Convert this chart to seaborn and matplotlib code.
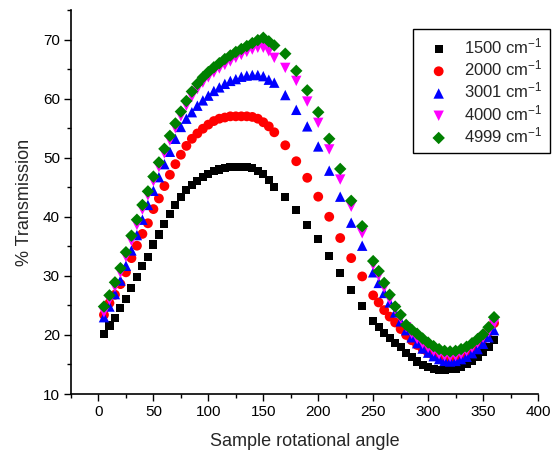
import numpy as np
import pandas as pd
import matplotlib
matplotlib.use("Agg")
import matplotlib.pyplot as plt
from matplotlib.ticker import MultipleLocator
import seaborn as sns

# ---------------- data ----------------
angles = ([5, 10, 15, 20, 25, 30, 35, 40, 45, 50, 55, 60, 65, 70, 75, 80, 85, 90, 95, 100,
           105, 110, 115, 120, 125, 130, 135, 140, 145, 150, 155, 160]
          + [170, 180, 190, 200, 210, 220, 230, 240]
          + [250, 255, 260, 265, 270, 275, 280, 285, 290, 295, 300, 305, 310, 315, 320,
             325, 330, 335, 340, 345, 350, 355, 360])

t1500 = [20.1, 21.6, 22.9, 24.6, 26.1, 28.0, 29.8, 31.6, 33.2, 35.3, 37.0, 38.8, 40.5, 42.0,
         43.3, 44.6, 45.4, 46.1, 46.7, 47.2, 47.7, 48.0, 48.2, 48.4, 48.5, 48.5, 48.5, 48.2,
         47.8, 47.2, 46.3, 45.1,
         43.3, 41.1, 38.6, 36.2, 33.3, 30.5, 27.6, 24.9,
         22.3, 21.3, 20.4, 19.5, 18.7, 17.9, 17.0, 16.2, 15.5, 14.9, 14.5, 14.2, 14.1, 14.1,
         14.2, 14.3, 14.6, 15.1, 15.6, 16.3, 17.1, 18.0, 19.2]

t2000 = [23.4, 25.4, 26.8, 28.6, 30.6, 33.0, 35.1, 37.1, 38.9, 41.3, 43.1, 45.2, 47.1, 48.9,
         50.5, 52.0, 53.2, 54.1, 54.9, 55.6, 56.2, 56.6, 56.8, 57.0, 57.0, 57.0, 57.0, 56.9,
         56.6, 56.0, 55.3, 54.3,
         52.1, 49.4, 46.6, 43.4, 40.0, 36.4, 33.0, 29.9,
         26.7, 25.5, 24.2, 23.1, 22.1, 21.0, 20.0, 19.1, 18.3, 17.6, 17.0, 16.5, 16.2, 16.0,
         16.0, 16.1, 16.4, 16.9, 17.5, 18.3, 19.3, 20.5, 22.0]

t3001 = [23.0, 24.8, 26.9, 29.2, 31.7, 34.3, 36.9, 39.5, 42.0, 44.4, 46.7, 48.9, 51.0, 53.2,
         55.2, 56.6, 57.7, 58.8, 59.7, 60.5, 61.3, 61.9, 62.5, 63.0, 63.3, 63.7, 63.9, 64.0,
         64.0, 63.8, 63.2, 62.7,
         60.6, 58.1, 55.3, 51.9, 47.8, 43.4, 39.0, 35.1,
         30.6, 28.8, 27.1, 25.5, 23.8, 22.3, 20.8, 19.6, 18.6, 17.7, 17.0, 16.4, 15.9, 15.6,
         15.5, 15.6, 15.9, 16.3, 16.9, 17.6, 18.5, 19.6, 20.8]

t4000 = [23.8, 25.9, 28.1, 30.5, 33.2, 35.9, 38.6, 41.2, 43.6, 46.0, 48.4, 50.7, 52.9, 55.0,
         57.0, 58.8, 60.3, 61.6, 62.7, 63.6, 64.4, 65.1, 65.7, 66.3, 66.9, 67.4, 67.9, 68.3,
         68.6, 68.6, 68.0, 66.9,
         65.2, 63.0, 59.5, 55.9, 51.4, 46.3, 41.7, 37.2,
         31.8, 30.0, 28.0, 26.0, 24.3, 22.8, 21.3, 20.2, 19.3, 18.5, 17.8, 17.2, 16.7, 16.4,
         16.3, 16.4, 16.7, 17.2, 17.8, 18.6, 19.5, 20.5, 21.8]

t4999 = [24.8, 26.7, 28.9, 31.3, 34.0, 36.8, 39.5, 42.0, 44.3, 46.8, 49.2, 51.5, 53.7, 55.8,
         57.8, 59.6, 61.2, 62.5, 63.6, 64.5, 65.3, 66.0, 66.7, 67.3, 67.9, 68.4, 68.9, 69.4,
         69.9, 70.3, 69.7, 69.0,
         67.6, 64.7, 61.4, 57.7, 53.2, 48.1, 42.7, 38.4,
         32.5, 30.8, 28.8, 26.8, 24.8, 23.4, 21.7, 20.9, 20.2, 19.4, 18.7, 18.1, 17.6, 17.3,
         17.2, 17.3, 17.6, 18.0, 18.6, 19.3, 20.1, 21.3, 23.0]

labels = ["1500 cm$^{-1}$", "2000 cm$^{-1}$", "3001 cm$^{-1}$", "4000 cm$^{-1}$", "4999 cm$^{-1}$"]
series = [t1500, t2000, t3001, t4000, t4999]

xticks = [0, 50, 100, 150, 200, 250, 300, 350, 400]
yticks = [10, 20, 30, 40, 50, 60, 70]

# ---------------- style ----------------
sns.set_theme(style="ticks")
plt.rcParams["font.family"] = ["Liberation Sans", "DejaVu Sans"]
plt.rcParams["mathtext.fontset"] = "custom"
plt.rcParams["mathtext.rm"] = "Liberation Sans"
plt.rcParams["mathtext.it"] = "Liberation Sans:italic"
plt.rcParams["mathtext.bf"] = "Liberation Sans:bold"

colors = ["#000000", "#FF0000", "#0000FF", "#FF00FF", "#008000"]
markers = ["s", "o", "^", "v", "D"]
sizes = [34, 50, 56, 56, 40]

fig = plt.figure(figsize=(5.54, 4.55), dpi=100)
ax = fig.add_axes([71 / 554, 1 - 394 / 455, 467 / 554, 384 / 455])

for lab, vals, c, m, s in zip(labels, series, colors, markers, sizes):
    df = pd.DataFrame({"angle": angles, "T": vals})
    sns.scatterplot(data=df, x="angle", y="T", ax=ax, color=c, marker=m, s=s,
                    linewidth=0, edgecolor="none", label=lab, zorder=3)

ax.set_xlim(-25, 400)
ax.set_ylim(10, 75)
ax.set_xticks(xticks)
ax.set_yticks(yticks)
ax.xaxis.set_minor_locator(MultipleLocator(25))
ax.yaxis.set_minor_locator(MultipleLocator(5))
ax.tick_params(axis="both", which="major", direction="out", length=5, width=1,
               labelsize=11, colors="#000000", pad=3)
ax.tick_params(axis="both", which="minor", direction="out", length=3, width=1,
               colors="#000000")
for sp in ["top", "right"]:
    ax.spines[sp].set_visible(False)
for sp in ["left", "bottom"]:
    ax.spines[sp].set_linewidth(1.2)
    ax.spines[sp].set_color("#000000")

ax.set_xlabel("Sample rotational angle", fontsize=13, labelpad=10)
ax.set_ylabel("% Transmission", fontsize=13, labelpad=7)

leg = ax.legend(loc="upper left", bbox_to_anchor=(0.732, 0.9505), borderaxespad=0,
                fontsize=12, frameon=True, fancybox=False, edgecolor="#000000",
                framealpha=1, handlelength=2.2, handletextpad=0.4, labelspacing=0.14,
                borderpad=0.45)
leg.get_frame().set_linewidth(1.0)

fig.savefig("out.png", dpi=100)
